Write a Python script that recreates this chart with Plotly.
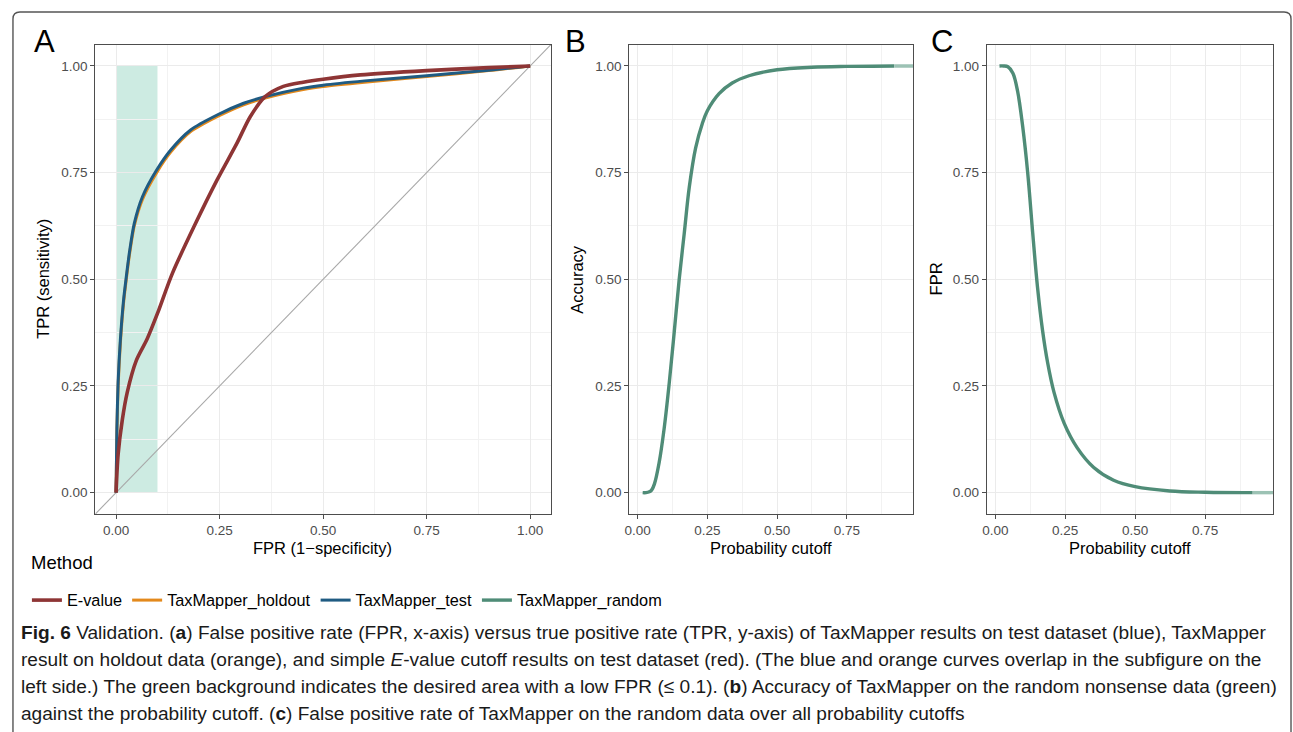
import plotly.graph_objects as go

W, H = 1293, 732
FONT = "Liberation Sans, Arial, Helvetica, sans-serif"

# ---------------- data ----------------
methods = ["E-value", "TaxMapper_holdout", "TaxMapper_test", "TaxMapper_random"]
colors = {"E-value": "#8E3535", "TaxMapper_holdout": "#E3891C",
          "TaxMapper_test": "#1F5B82", "TaxMapper_random": "#4F8C77"}

evalue_fpr = [0, 0.005, 0.015, 0.027, 0.049, 0.075, 0.1, 0.136, 0.188, 0.244, 0.292,
              0.324, 0.36, 0.404, 0.452, 0.5, 0.59, 0.75, 0.9, 1.0]
evalue_tpr = [0, 0.09, 0.17, 0.235, 0.31, 0.36, 0.42, 0.514, 0.623, 0.733, 0.819,
              0.881, 0.928, 0.952, 0.962, 0.969, 0.979, 0.989, 0.996, 1.0]

test_fpr = [0, 0.002, 0.005, 0.0104, 0.018, 0.024, 0.032, 0.044, 0.064, 0.098, 0.132,
            0.18, 0.244, 0.308, 0.36, 0.452, 0.5, 0.6, 0.75, 0.9, 1.0]
test_tpr = [0, 0.15, 0.26, 0.358, 0.45, 0.5, 0.561, 0.631, 0.694, 0.756, 0.803,
            0.85, 0.885, 0.9125, 0.928, 0.948, 0.955, 0.965, 0.977, 0.99, 1.0]

holdout_fpr = [0, 0.002, 0.005, 0.0104, 0.018, 0.024, 0.032, 0.044, 0.064, 0.098, 0.132,
               0.18, 0.244, 0.308, 0.36, 0.452, 0.5, 0.6, 0.75, 0.9, 1.0]
holdout_tpr = [0, 0.14, 0.25, 0.35, 0.443, 0.494, 0.555, 0.625, 0.688, 0.75, 0.798,
               0.846, 0.881, 0.909, 0.925, 0.945, 0.952, 0.962, 0.975, 0.989, 1.0]

diag_x = [-0.05, 1.05]
diag_y = [-0.05, 1.05]
low_fpr_limit = 0.1

acc_cutoff = [0.018, 0.03, 0.042, 0.05, 0.06, 0.077, 0.095, 0.113, 0.131, 0.149, 0.167,
              0.185, 0.208, 0.232, 0.25, 0.292, 0.339, 0.399, 0.5, 0.625, 0.75, 0.92]
acc_value = [0, 0, 0.002, 0.006, 0.02, 0.07, 0.15, 0.255, 0.375, 0.5, 0.607,
             0.715, 0.808, 0.865, 0.895, 0.935, 0.96, 0.977, 0.991, 0.997, 0.999, 1.0]
acc_tail_cutoff = [0.92, 1.0]
acc_tail_value = [1.0, 1.0]

fpr_cutoff = [0.015, 0.03, 0.045, 0.063, 0.08, 0.098, 0.116, 0.134, 0.151, 0.169, 0.187,
              0.21, 0.246, 0.293, 0.352, 0.423, 0.5, 0.624, 0.75, 0.92]
fpr_value = [1.0, 1.0, 0.998, 0.983, 0.94, 0.858, 0.749, 0.607, 0.481, 0.38, 0.305,
             0.235, 0.163, 0.105, 0.059, 0.029, 0.014, 0.004, 0.001, 0.0]
fpr_tail_cutoff = [0.92, 1.0]
fpr_tail_value = [0.0, 0.0]

tick_vals = [0, 0.25, 0.5, 0.75, 1.0]
tick_text = ["0.00", "0.25", "0.50", "0.75", "1.00"]

caption_lines = [
    "<b>Fig. 6</b> Validation. (<b>a</b>) False positive rate (FPR, x-axis) versus true positive rate (TPR, y-axis) of TaxMapper results on test dataset (blue), TaxMapper",
    "result on holdout data (orange), and simple <i>E</i>-value cutoff results on test dataset (red). (The blue and orange curves overlap in the subfigure on the",
    "left side.) The green background indicates the desired area with a low FPR (≤ 0.1). (<b>b</b>) Accuracy of TaxMapper on the random nonsense data (green)",
    "against the probability cutoff. (<b>c</b>) False positive rate of TaxMapper on the random data over all probability cutoffs",
]


def px(x):
    return x / W


def py(y):
    return 1 - y / H


fig = go.Figure()

# Panel A
fig.add_trace(go.Scatter(x=diag_x, y=diag_y, mode="lines", line=dict(color="#A8A8A8", width=1.1),
                         showlegend=False, hoverinfo="skip", xaxis="x", yaxis="y"))
fig.add_trace(go.Scatter(x=holdout_fpr, y=holdout_tpr, mode="lines", name="TaxMapper_holdout",
                         line=dict(color=colors["TaxMapper_holdout"], width=3, shape="spline", smoothing=0.7),
                         legendrank=2, xaxis="x", yaxis="y"))
fig.add_trace(go.Scatter(x=test_fpr, y=test_tpr, mode="lines", name="TaxMapper_test",
                         line=dict(color=colors["TaxMapper_test"], width=3, shape="spline", smoothing=0.7),
                         legendrank=3, xaxis="x", yaxis="y"))
fig.add_trace(go.Scatter(x=evalue_fpr, y=evalue_tpr, mode="lines", name="E-value",
                         line=dict(color=colors["E-value"], width=3.6, shape="spline", smoothing=0.8),
                         legendrank=1, xaxis="x", yaxis="y"))

# Panel B
fig.add_trace(go.Scatter(x=acc_cutoff, y=acc_value, mode="lines", name="TaxMapper_random",
                         line=dict(color=colors["TaxMapper_random"], width=3.4, shape="spline", smoothing=1.0),
                         legendrank=4, xaxis="x2", yaxis="y2"))
fig.add_trace(go.Scatter(x=acc_tail_cutoff, y=acc_tail_value, mode="lines",
                         line=dict(color="#9CC2B4", width=3.4), showlegend=False,
                         xaxis="x2", yaxis="y2"))
# Panel C
fig.add_trace(go.Scatter(x=fpr_cutoff, y=fpr_value, mode="lines", name="TaxMapper_random",
                         line=dict(color=colors["TaxMapper_random"], width=3.4, shape="spline", smoothing=1.0),
                         showlegend=False, xaxis="x3", yaxis="y3"))
fig.add_trace(go.Scatter(x=fpr_tail_cutoff, y=fpr_tail_value, mode="lines",
                         line=dict(color="#9CC2B4", width=3.4), showlegend=False,
                         xaxis="x3", yaxis="y3"))

ydom = [py(514), py(44.6)]
common = dict(showline=True, mirror=True, linecolor="#4D4D4D", linewidth=1.1,
              ticks="outside", ticklen=4, tickcolor="#4D4D4D", tickwidth=1,
              gridcolor="#EBEBEB", gridwidth=1.1, zeroline=False,
              tickvals=tick_vals, ticktext=tick_text,
              tickfont=dict(family=FONT, size=13.5, color="#4D4D4D"),
              minor=dict(tick0=0, dtick=0.125, showgrid=True, gridcolor="#F2F2F2",
                         gridwidth=0.6, ticks=""),
              fixedrange=True)

layout = dict(
    width=W, height=H, margin=dict(l=0, r=0, t=0, b=0),
    paper_bgcolor="white", plot_bgcolor="white",
    font=dict(family=FONT, color="black"),
    xaxis=dict(domain=[px(90.7), px(548)], range=[-0.05, 1.05], anchor="y", **common),
    yaxis=dict(domain=ydom, range=[-0.05, 1.05], anchor="x", **common),
    xaxis2=dict(domain=[px(626.7), px(911.7)], range=[-0.03, 0.988], anchor="y2", **common),
    yaxis2=dict(domain=ydom, range=[-0.05, 1.05], anchor="x2", **common),
    xaxis3=dict(domain=[px(985.7), px(1273)], range=[-0.03, 0.993], anchor="y3", **common),
    yaxis3=dict(domain=ydom, range=[-0.05, 1.05], anchor="x3", **common),
    showlegend=True,
    legend=dict(orientation="h", x=px(22), y=py(583), xanchor="left", yanchor="top",
                font=dict(family=FONT, size=16.3, color="black"), bgcolor="rgba(0,0,0,0)",
                traceorder="normal", itemwidth=30),
)
fig.update_layout(**layout)

# green low-FPR area
fig.add_shape(type="rect", xref="x", yref="y", x0=0, x1=low_fpr_limit, y0=0, y1=1,
              fillcolor="#CDEBE2", line=dict(width=0), layer="below")

# outer rounded frame
x0, x1, yt, yb, r = 8, 1291, 12, 760, 7
path = (f"M {px(x0)},{py(yb)} L {px(x0)},{py(yt + r)} Q {px(x0)},{py(yt)} {px(x0 + r)},{py(yt)} "
        f"L {px(x1 - r)},{py(yt)} Q {px(x1)},{py(yt)} {px(x1)},{py(yt + r)} L {px(x1)},{py(yb)}")
fig.add_shape(type="path", xref="paper", yref="paper", path=path,
              line=dict(color="#555555", width=1.4))

ann = []
for letter, xc in [("A", 40), ("B", 573), ("C", 941)]:
    ann.append(dict(text=letter, x=px(xc), y=py(42), xref="paper", yref="paper",
                    showarrow=False, xanchor="center", yanchor="middle",
                    font=dict(family=FONT, size=31, color="black")))
# axis titles
ann.append(dict(text="TPR (sensitivity)", x=px(38), y=py(279), textangle=-90))
ann.append(dict(text="Accuracy", x=px(574), y=py(279), textangle=-90))
ann.append(dict(text="FPR", x=px(935), y=py(279), textangle=-90))
ann.append(dict(text="FPR (1\u2212specificity)", x=px(319), y=py(548)))
ann.append(dict(text="Probability cutoff", x=px(769), y=py(548)))
ann.append(dict(text="Probability cutoff", x=px(1129), y=py(548)))
for a in ann[3:]:
    a.update(xref="paper", yref="paper", showarrow=False, xanchor="center", yanchor="middle",
             font=dict(family=FONT, size=16.5, color="black"))
# legend title
ann.append(dict(text="Method", x=px(24), y=py(562), xref="paper", yref="paper", showarrow=False,
                xanchor="left", yanchor="middle", font=dict(family=FONT, size=18.5, color="black")))
# caption
for i, line in enumerate(caption_lines):
    ann.append(dict(text=line, x=px(14), y=py(632 + i * 27.3), xref="paper", yref="paper",
                    showarrow=False, xanchor="left", yanchor="middle", align="left",
                    font=dict(family=FONT, size=19.1, color="#1A1A1A")))
fig.update_layout(annotations=ann)

fig.write_html("out.html", config={"displayModeBar": False},
               post_script="document.body.style.margin='0px';")
